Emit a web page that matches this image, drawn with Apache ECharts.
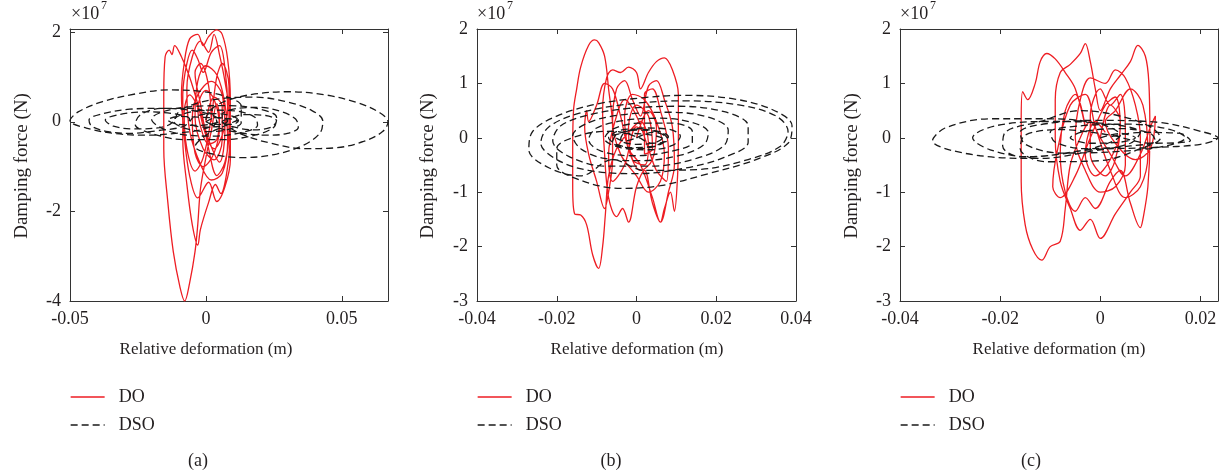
<!DOCTYPE html>
<html>
<head>
<meta charset="utf-8">
<script src="https://cdn.jsdelivr.net/npm/echarts@6/dist/echarts.min.js"></script>
<style>
  html, body { margin: 0; padding: 0; background: #fff; }
  #chart { width: 1225px; height: 474px; }
</style>
</head>
<body>
<div id="chart"></div>
<script>
// Hysteresis loops: relative deformation (m) vs damping force (x10^7 N)
const seriesNames = ['DO', 'DSO'];
const captions = ['(a)', '(b)', '(c)'];

// Tick values per panel
const xTicksA = [-0.05, 0, 0.05];
const yTicksA = [-4, -2, 0, 2];
const xTicksB = [-0.04, -0.02, 0, 0.02, 0.04];
const yTicksB = [-3, -2, -1, 0, 1, 2];
const xTicksC = [-0.04, -0.02, 0, 0.02];
const yTicksC = [-3, -2, -1, 0, 1, 2];

// Axis extents per panel
const xRangeA = [-0.05, 0.067];
const yRangeA = [-4, 2.07];
const xRangeB = [-0.04, 0.04];
const yRangeB = [-3, 2];
const xRangeC = [-0.04, 0.0235];
const yRangeC = [-3, 2];

// Panel (a) — DO trajectory [deformation, force]
const doA = [
  [0.000,0.00],[0.003,0.55],[0.006,0.35],[0.006,-0.40],[0.003,-0.85],[-0.001,-0.60],[-0.004,0.10],[-0.003,0.90],
  [0.000,1.25],[0.004,1.05],[0.007,0.40],[0.008,-0.45],[0.006,-1.15],[0.002,-1.30],[-0.002,-0.95],[-0.006,-0.20],
  [-0.007,0.75],[-0.005,1.45],[-0.002,1.80],[0.001,1.55],[0.003,1.95],[0.005,1.50],[0.007,0.90],[0.009,0.00],
  [0.009,-0.85],[0.007,-1.45],[0.004,-1.78],[0.001,-1.35],[-0.003,-1.70],[-0.006,-1.20],[-0.008,-0.30],[-0.009,0.60],
  [-0.008,1.30],[-0.006,1.85],[-0.003,1.95],[-0.001,1.70],[0.001,1.90],[0.004,2.05],[0.006,1.95],[0.008,1.40],
  [0.009,0.50],[0.0088,-0.50],[0.0075,-1.20],[0.0055,-1.60],[0.0035,-1.40],[0.001,-1.80],[-0.002,-2.40],[-0.003,-2.75],
  [-0.005,-2.30],[-0.007,-1.40],[-0.0085,-0.40],[-0.0085,0.60],[-0.007,1.30],[-0.005,1.60],[-0.003,1.40],[-0.001,1.10],
  [0.002,1.55],[0.005,1.70],[0.007,1.20],[0.008,0.30],[0.006,-0.30],[0.003,-0.60],[0.000,-0.30],[-0.003,0.40],
  [-0.006,1.00],[-0.009,1.45],[-0.0115,1.70],[-0.0125,1.50],[-0.0135,1.60],[-0.015,1.45],[-0.0155,0.60],[-0.0155,-0.60],
  [-0.014,-1.80],[-0.012,-2.90],[-0.0095,-3.70],[-0.0078,-4.00],[-0.006,-3.60],[-0.004,-2.90],[-0.003,-2.30],[-0.002,-1.50],
  [0.000,-0.80],[0.002,-0.20],[0.004,0.40],[0.005,0.10],[0.004,-0.40],[0.001,-0.50],[-0.002,-0.10],[-0.003,0.30],
  [0.000,0.70],[0.003,0.50],[0.005,-0.10],[0.003,-0.70],[-0.001,-1.00],[-0.004,-0.70],[-0.005,0.10],[-0.003,0.60],
  [0.002,0.90],[0.006,0.60],[0.007,-0.20],[0.005,-0.90],[0.001,-0.40],[-0.002,0.20],[-0.006,0.60],[-0.008,0.20],
  [-0.007,-0.60],[-0.004,-1.10],[-0.001,-0.80],[0.002,0.10],[0.004,1.00],[0.006,1.30],[0.0085,0.80],[0.0085,-0.20],
  [0.007,-0.90],[0.004,-1.20],[0.001,-0.60],[-0.002,0.40],[-0.004,1.10],[-0.002,1.30],[0.001,0.80],[0.002,0.00]
];

// Panel (a) — DSO trajectory
const dsoA = [
  [0.000,0.00],[0.004,0.10],[0.008,0.02],[0.005,-0.10],[-0.001,-0.12],[-0.006,-0.02],[-0.004,0.12],[0.003,0.18],
  [0.010,0.12],[0.013,-0.02],[0.009,-0.16],[0.001,-0.22],[-0.008,-0.14],[-0.012,0.02],[-0.008,0.18],[0.001,0.26],
  [0.011,0.24],[0.018,0.10],[0.019,-0.08],[0.013,-0.24],[0.003,-0.32],[-0.009,-0.28],[-0.017,-0.12],[-0.020,0.06],
  [-0.015,0.24],[-0.005,0.34],[0.008,0.36],[0.020,0.28],[0.026,0.10],[0.025,-0.12],[0.018,-0.30],[0.006,-0.40],
  [-0.008,-0.40],[-0.020,-0.26],[-0.026,-0.06],[-0.024,0.16],[-0.016,0.30],[-0.006,0.30],[0.002,0.18],
  [0.004,0.00],[0.000,-0.15],[-0.010,-0.25],[-0.022,-0.30],[-0.034,-0.26],[-0.044,-0.14],[-0.050,0.02],[-0.047,0.22],
  [-0.038,0.45],[-0.026,0.62],[-0.014,0.71],[-0.002,0.68],[0.008,0.55],[0.013,0.35],[0.013,0.12],[0.008,-0.06],
  [0.000,-0.30],[-0.004,-0.55],[0.004,-0.74],[0.014,-0.80],[0.026,-0.72],[0.036,-0.52],[0.042,-0.25],[0.043,0.02],
  [0.039,0.25],[0.030,0.44],[0.018,0.55],[0.006,0.52],[-0.004,0.40],[-0.010,0.22],[-0.012,0.00],
  [-0.016,-0.12],[-0.026,-0.16],[-0.034,-0.10],[-0.037,0.04],[-0.032,0.16],[-0.022,0.22],[-0.012,0.18],[-0.006,0.06],
  [-0.008,-0.10],[-0.018,-0.20],[-0.028,-0.26],[-0.036,-0.22],[-0.042,-0.10],[-0.043,0.04],[-0.038,0.18],[-0.028,0.28],
  [-0.016,0.30],[-0.004,0.24],[0.004,0.10],
  [0.008,-0.10],[0.014,-0.30],[0.024,-0.48],[0.036,-0.60],[0.048,-0.58],[0.058,-0.44],[0.065,-0.22],[0.067,0.00],
  [0.064,0.20],[0.056,0.42],[0.044,0.60],[0.030,0.67],[0.018,0.62],[0.008,0.48],[0.002,0.28],[0.000,0.06],
  [0.004,-0.12],[0.012,-0.24],[0.022,-0.30],[0.030,-0.26],[0.034,-0.12],[0.033,0.06],[0.028,0.22],[0.020,0.32],
  [0.012,0.30],[0.006,0.16],[0.006,0.00],[0.012,-0.14],[0.018,-0.18],[0.024,-0.12],[0.026,0.02],[0.022,0.14],
  [0.014,0.16],[0.008,0.06],[0.004,-0.02],[-0.002,-0.08],[-0.010,-0.06],[-0.014,0.04],[-0.010,0.12],[-0.002,0.10],
  [0.006,0.08],[0.012,0.02],[0.010,-0.06],[0.003,-0.06],[0.000,0.00]
];

// Panel (b) — DO trajectory
const doB = [
  [0.000,0.00],[0.003,0.50],[0.005,0.20],[0.004,-0.40],[0.001,-0.60],[-0.002,-0.20],[-0.003,0.40],[-0.001,0.80],
  [0.002,0.70],[0.005,0.30],[0.007,-0.30],[0.006,-0.80],[0.003,-1.00],[0.000,-0.70],[-0.004,-0.30],[-0.006,0.30],
  [-0.005,0.90],[-0.003,1.05],[-0.001,0.70],[0.001,0.40],[0.003,0.95],[0.005,1.05],[0.007,0.70],[0.009,0.20],
  [0.0095,-0.50],[0.008,-1.00],[0.006,-1.55],[0.004,-1.20],[0.002,-0.60],[0.000,-0.90],[-0.002,-1.55],[-0.0035,-1.30],
  [-0.005,-1.45],[-0.007,-1.10],[-0.008,-0.30],[-0.0085,0.50],[-0.0075,1.10],[-0.006,1.25],[-0.004,1.20],[-0.002,1.30],
  [0.000,1.20],[0.001,0.90],[0.003,1.20],[0.005,1.40],[0.007,1.47],[0.009,1.25],[0.0105,0.80],[0.0105,0.00],
  [0.0103,-0.70],[0.0095,-1.35],[0.0085,-1.00],[0.007,-1.30],[0.006,-1.55],[0.004,-1.10],[0.001,-0.50],[-0.002,-0.20],
  [-0.004,0.40],[-0.006,0.90],[-0.008,1.00],[-0.010,0.60],[-0.012,0.30],[-0.0125,0.50],[-0.013,0.20],[-0.012,-0.30],
  [-0.010,-0.80],[-0.008,-1.30],[-0.007,-1.00],[-0.006,-0.40],[-0.006,0.20],[-0.007,0.90],[-0.008,1.50],[-0.0095,1.75],
  [-0.0105,1.80],[-0.012,1.70],[-0.014,1.30],[-0.015,0.90],[-0.0158,0.50],[-0.016,-0.20],[-0.016,-0.90],[-0.0155,-1.40],
  [-0.014,-1.42],[-0.0125,-1.60],[-0.011,-2.15],[-0.0095,-2.40],[-0.0085,-2.00],[-0.0078,-1.40],[-0.007,-0.70],[-0.005,-0.20],
  [-0.002,0.10],[0.001,0.30],[0.003,-0.10],[0.002,-0.50],[-0.001,-0.40],[-0.002,0.20],[0.000,0.60],[0.003,0.40],
  [0.004,-0.20],[0.002,-0.30],[0.002,0.80],[0.004,0.90],[0.006,0.50],[0.008,-0.20],[0.0075,-0.80],[0.005,-0.60],
  [0.003,-0.20],[0.000,0.40],[-0.003,0.70],[-0.005,0.40],[-0.007,-0.30],[-0.006,-0.80],[-0.003,-0.50],[0.000,0.20],
  [0.002,0.10]
];

// Panel (b) — DSO trajectory
const dsoB = [
  [0.000,0.00],[0.004,0.10],[0.007,0.03],[0.005,-0.08],[0.000,-0.12],[-0.004,-0.04],[-0.003,0.10],[0.002,0.18],
  [0.008,0.16],[0.011,0.03],[0.009,-0.14],[0.003,-0.22],[-0.004,-0.18],[-0.008,-0.02],[-0.006,0.16],[0.001,0.27],
  [0.009,0.27],[0.014,0.12],[0.014,-0.08],[0.008,-0.26],[-0.001,-0.33],[-0.009,-0.24],[-0.012,-0.04],[-0.010,0.18],
  [-0.003,0.32],[0.006,0.36],[0.014,0.28],[0.018,0.10],[0.017,-0.12],[0.011,-0.32],[0.001,-0.42],[-0.008,-0.38],
  [-0.014,-0.20],[-0.016,0.04],[-0.012,0.28],[-0.004,0.42],[0.008,0.47],[0.018,0.38],[0.023,0.14],[0.022,-0.14],
  [0.015,-0.38],[0.004,-0.52],[-0.008,-0.52],[-0.017,-0.34],[-0.021,-0.06],[-0.019,0.22],[-0.012,0.42],[-0.002,0.54],
  [0.010,0.58],[0.022,0.48],[0.028,0.22],[0.028,-0.08],[0.022,-0.36],[0.012,-0.56],[0.000,-0.66],[-0.012,-0.60],
  [-0.020,-0.40],[-0.024,-0.10],[-0.022,0.20],[-0.014,0.46],[-0.002,0.62],[0.012,0.68],[0.026,0.60],[0.035,0.40],
  [0.038,0.12],[0.036,-0.16],[0.028,-0.40],[0.016,-0.58],[0.002,-0.60],[-0.006,-0.40],
  [-0.014,-0.70],[-0.022,-0.55],[-0.027,-0.22],[-0.026,0.12],[-0.020,0.40],[-0.010,0.62],[0.002,0.74],[0.012,0.78],
  [0.024,0.72],[0.034,0.52],[0.039,0.22],[0.038,-0.10],[0.030,-0.40],[0.018,-0.66],[0.006,-0.88],[-0.004,-0.93],
  [-0.014,-0.78],[-0.020,-0.50],[-0.020,-0.20],[-0.014,0.05],[-0.006,0.12],[0.000,0.02],
  [0.004,-0.10],[0.008,-0.04],[0.006,0.10],[0.000,0.14],[-0.005,0.06],[-0.006,-0.08],[-0.002,-0.18],[0.004,-0.16],
  [0.007,-0.04],[0.003,0.06],[-0.003,0.08],[-0.007,0.00],[-0.005,-0.12],[0.001,-0.20],[0.006,-0.12],[0.008,0.02],
  [0.004,0.14],[-0.002,0.16],[-0.006,0.06],[-0.003,-0.06],[0.000,0.00]
];

// Panel (c) — DO trajectory
const doC = [
  [0.000,0.00],[0.002,0.60],[0.004,0.30],[0.003,-0.40],[0.001,-0.70],[-0.002,-0.30],[-0.002,0.40],[0.000,0.90],
  [0.002,0.60],[0.004,0.80],[0.005,0.20],[0.005,-0.50],[0.003,-0.90],[0.000,-1.00],[-0.003,-0.60],[-0.005,0.00],
  [-0.004,0.70],[-0.002,1.10],[0.001,1.00],[0.003,1.25],[0.005,1.10],[0.007,0.60],[0.008,0.00],[0.008,-0.70],
  [0.006,-1.00],[0.003,-1.40],[0.000,-1.85],[-0.002,-1.50],[-0.004,-1.70],[-0.006,-1.30],[-0.008,-0.80],[-0.009,0.00],
  [-0.009,0.70],[-0.008,1.20],[-0.006,1.35],[-0.004,1.55],[-0.003,1.73],[-0.002,1.40],[-0.001,0.90],[0.000,0.50],
  [0.002,0.90],[0.004,1.15],[0.006,1.40],[0.0075,1.70],[0.009,1.50],[0.0097,1.00],[0.0099,0.00],[0.0095,-0.90],
  [0.0085,-1.50],[0.008,-1.65],[0.006,-1.20],[0.004,-0.60],[0.002,-0.80],[-0.001,-1.30],[-0.003,-1.10],[-0.005,-1.35],
  [-0.007,-1.00],[-0.008,-0.30],[-0.007,0.50],[-0.005,0.80],[-0.003,0.20],[-0.005,0.90],[-0.007,1.20],[-0.009,1.45],
  [-0.0107,1.55],[-0.012,1.40],[-0.013,1.00],[-0.0145,0.70],[-0.0155,0.85],[-0.0158,0.30],[-0.0158,-0.80],[-0.015,-1.60],
  [-0.0135,-2.05],[-0.0117,-2.25],[-0.010,-2.00],[-0.008,-1.90],[-0.007,-1.30],[-0.006,-0.50],[-0.004,0.00],[-0.002,0.30],
  [0.000,0.00],[0.002,-0.30],[0.005,-0.70],[0.008,-0.30],[0.010,0.20],[0.011,0.40],[0.010,-0.20],[0.007,-0.40],
  [0.003,-0.10],[0.001,0.30],[0.003,0.50],[0.006,0.90],[0.0085,0.60],[0.0095,-0.30],[0.008,-0.90],[0.005,-1.10],
  [0.002,-0.60],[-0.001,0.20],[-0.003,0.80],[-0.006,0.60],[-0.0085,-0.20],[-0.0095,-0.90],[-0.008,-1.10],[-0.005,-0.70],
  [-0.002,0.00],[0.001,0.60],[0.003,0.75],[0.004,0.20],[0.002,-0.40],[-0.001,-0.70],[-0.003,-0.30],[-0.001,0.30],
  [0.001,0.10]
];

// Panel (c) — DSO trajectory
const dsoC = [
  [0.000,0.00],[0.004,0.08],[0.007,0.00],[0.004,-0.08],[-0.002,-0.10],[-0.006,0.00],[-0.003,0.12],[0.004,0.17],
  [0.010,0.08],[0.011,-0.06],[0.006,-0.15],[-0.003,-0.20],[-0.009,-0.08],[-0.010,0.10],[-0.004,0.22],[0.006,0.25],
  [0.014,0.15],[0.017,0.00],[0.013,-0.15],[0.004,-0.25],[-0.008,-0.28],[-0.015,-0.12],[-0.016,0.10],[-0.010,0.27],
  [0.000,0.32],[0.012,0.28],[0.020,0.12],[0.0235,0.00],[0.020,-0.12],[0.010,-0.18],[-0.002,-0.22],[-0.014,-0.35],
  [-0.022,-0.22],[-0.0255,0.00],[-0.021,0.22],[-0.010,0.30],[0.002,0.25],[0.008,0.10],[0.006,-0.10],[-0.002,-0.25],
  [-0.012,-0.38],[-0.024,-0.33],[-0.0335,-0.05],[-0.031,0.18],[-0.022,0.35],[-0.010,0.35],[0.000,0.25],[0.004,0.05],
  [0.000,-0.15],[-0.008,-0.30],[-0.016,-0.35],[-0.0195,-0.15],[-0.019,0.10],[-0.012,0.30],[-0.004,0.50],[0.004,0.40],
  [0.010,0.20],[0.012,0.00],[0.008,-0.20],[0.000,-0.42],[-0.011,-0.44],[-0.016,-0.20],[-0.015,0.05],[-0.008,0.15],
  [0.002,0.05],[0.010,-0.10],[0.018,-0.05],[0.016,0.08],[0.008,0.10],[0.002,0.02]
];

const FONT = 'Liberation Serif';
const TXT = '#231f20';
const FRAME = '#333';

const panels = [
  { grid: { left: 70, right: 837, top: 29, bottom: 173 }, xr: xRangeA, yr: yRangeA, xt: xTicksA, yt: yTicksA, d: doA, s: dsoA },
  { grid: { left: 477, right: 429, top: 29, bottom: 173 }, xr: xRangeB, yr: yRangeB, xt: xTicksB, yt: yTicksB, d: doB, s: dsoB },
  { grid: { left: 900, right: 7, top: 29, bottom: 173 }, xr: xRangeC, yr: yRangeC, xt: xTicksC, yt: yTicksC, d: doC, s: dsoC }
];

const grids = [], xAxes = [], yAxes = [], series = [], legends = [], graphics = [];

function axisBase(min, max, ticks, showLabel) {
  return {
    type: 'value', min: min, max: max,
    axisLine: { show: true, onZero: false, lineStyle: { color: FRAME, width: 1 } },
    axisTick: { show: true, inside: true, length: 5, customValues: ticks, lineStyle: { color: FRAME, width: 1 } },
    axisLabel: { show: showLabel, customValues: ticks, fontFamily: FONT, fontSize: 18, color: TXT, margin: 9 },
    splitLine: { show: false }
  };
}

panels.forEach((p, i) => {
  grids.push(Object.assign({ containLabel: false }, p.grid));
  // bottom + left axes carry labels
  xAxes.push(Object.assign(axisBase(p.xr[0], p.xr[1], p.xt, true), { gridIndex: i, position: 'bottom' }));
  yAxes.push(Object.assign(axisBase(p.yr[0], p.yr[1], p.yt, true), { gridIndex: i, position: 'left' }));
});
panels.forEach((p, i) => {
  // top + right axes close the frame
  xAxes.push(Object.assign(axisBase(p.xr[0], p.xr[1], p.xt, false), { gridIndex: i, position: 'top' }));
  yAxes.push(Object.assign(axisBase(p.yr[0], p.yr[1], p.yt, false), { gridIndex: i, position: 'right' }));
});

panels.forEach((p, i) => {
  series.push({
    name: seriesNames[0], type: 'line', xAxisIndex: i, yAxisIndex: i,
    data: p.d, smooth: 0.35, symbol: 'none', showSymbol: false, animation: false,
    lineStyle: { color: '#ee1d23', width: 1.3 }, itemStyle: { color: '#ee1d23' }, z: 2
  });
  series.push({
    name: seriesNames[1], type: 'line', xAxisIndex: i, yAxisIndex: i,
    data: p.s, smooth: 0.35, symbol: 'none', showSymbol: false, animation: false,
    lineStyle: { color: '#1a1a1a', width: 1.3, type: [7, 4] }, itemStyle: { color: '#1a1a1a' }, z: 3
  });

  legends.push({
    left: p.grid.left, top: 388, orient: 'vertical', padding: 0,
    itemWidth: 34, itemHeight: 14, itemGap: 10,
    data: seriesNames, selectedMode: false,
    itemStyle: { opacity: 0 },
    lineStyle: { width: 1.3 },
    textStyle: { fontFamily: FONT, fontSize: 18, color: TXT, padding: [0, 0, 0, 9] }
  });
});

// Axis titles, exponent markers and panel captions
const xTitleX = [206, 637, 1059];
const yTitleX = [22, 428, 852];
const expX = [71, 477, 900];
const capX = [198, 611, 1031];
function textEl(x, y, text, size, align, rot) {
  const el = { type: 'text', x: x, y: y, style: { text: text, font: size + 'px ' + FONT, fill: TXT, align: align, verticalAlign: 'middle', textAlign: align, textVerticalAlign: 'middle' } };
  if (rot) el.rotation = rot;
  return el;
}
[0, 1, 2].forEach(i => {
  graphics.push(textEl(xTitleX[i], 350, 'Relative deformation (m)', 17, 'center'));
  graphics.push(textEl(yTitleX[i], 166, 'Damping force (N)', 19, 'center', Math.PI / 2));
  graphics.push(textEl(expX[i], 14, '\u00d710', 18, 'left'));
  graphics.push(textEl(expX[i] + 30, 6, '7', 12, 'left'));
  graphics.push(textEl(capX[i], 461, captions[i], 18, 'center'));
});

const chart = echarts.init(document.getElementById('chart'), null, { renderer: 'canvas' });
chart.setOption({
  backgroundColor: '#fff',
  animation: false,
  grid: grids,
  xAxis: xAxes,
  yAxis: yAxes,
  legend: legends,
  series: series,
  graphic: graphics
});
</script>
</body>
</html>
